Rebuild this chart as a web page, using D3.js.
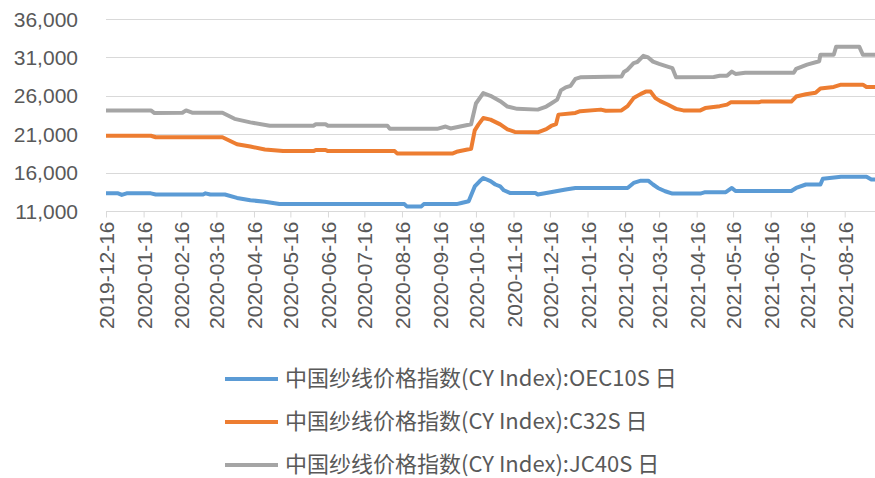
<!DOCTYPE html>
<html>
<head>
<meta charset="utf-8">
<script src="https://cdn.jsdelivr.net/npm/d3@7"></script>
<style>
  body { margin: 0; background: #fff; }
  svg text { font-family: "Liberation Sans", "Noto Sans CJK SC", sans-serif; fill: #595959; }
</style>
</head>
<body>
<div id="chart"></div>
<script>
// tick labels on the date axis
const monthTicks = ["2019-12-16","2020-01-16","2020-02-16","2020-03-16","2020-04-16","2020-05-16",
  "2020-06-16","2020-07-16","2020-08-16","2020-09-16","2020-10-16","2020-11-16","2020-12-16",
  "2021-01-16","2021-02-16","2021-03-16","2021-04-16","2021-05-16","2021-06-16","2021-07-16","2021-08-16"];
const yTicks = [11000, 16000, 21000, 26000, 31000, 36000];

const seriesNames = [
  "中国纱线价格指数(CY Index):OEC10S 日",
  "中国纱线价格指数(CY Index):C32S 日",
  "中国纱线价格指数(CY Index):JC40S 日"
];
const seriesColors = ["#5B9BD5", "#ED7D31", "#A5A5A5"];

// values (date, price)
const oec10s = [
  ["2019-12-16",13300],["2019-12-26",13300],["2019-12-29",13100],["2020-01-02",13300],["2020-01-22",13300],
  ["2020-01-26",13150],["2020-03-05",13150],["2020-03-07",13300],["2020-03-11",13150],["2020-03-23",13150],
  ["2020-04-02",12700],["2020-04-13",12400],["2020-04-25",12200],["2020-05-07",11900],["2020-08-18",11900],
  ["2020-08-20",11600],["2020-09-01",11600],["2020-09-03",11900],["2020-09-30",11900],["2020-10-04",12050],
  ["2020-10-10",12270],["2020-10-15",14200],["2020-10-19",14870],["2020-10-22",15300],["2020-10-28",14900],
  ["2020-11-01",14450],["2020-11-05",14200],["2020-11-08",13700],["2020-11-13",13350],["2020-12-04",13350],
  ["2020-12-06",13150],["2020-12-13",13350],["2020-12-21",13570],["2020-12-29",13800],["2021-01-06",14000],
  ["2021-02-18",14000],["2021-02-23",14650],["2021-03-01",14950],["2021-03-07",14950],["2021-03-11",14450],
  ["2021-03-15",14000],["2021-03-21",13570],["2021-03-27",13270],["2021-04-19",13270],["2021-04-23",13450],
  ["2021-05-10",13450],["2021-05-15",14000],["2021-05-18",13600],["2021-07-03",13600],["2021-07-07",14000],
  ["2021-07-15",14450],["2021-07-27",14450],["2021-07-29",15200],["2021-08-13",15450],["2021-09-03",15450],
  ["2021-09-07",15100],["2021-09-10",15100]
];
const c32s = [
  ["2019-12-16",20800],["2020-01-22",20800],["2020-01-26",20600],["2020-03-21",20600],["2020-04-02",19700],
  ["2020-04-13",19400],["2020-04-25",19000],["2020-05-10",18800],["2020-06-04",18800],["2020-06-06",18950],
  ["2020-06-14",18950],["2020-06-16",18800],["2020-08-10",18800],["2020-08-12",18500],["2020-09-27",18500],
  ["2020-10-01",18750],["2020-10-09",19000],["2020-10-12",19100],["2020-10-15",21500],["2020-10-18",22250],
  ["2020-10-22",23100],["2020-10-28",22900],["2020-11-05",22280],["2020-11-11",21640],["2020-11-17",21300],
  ["2020-12-06",21250],["2020-12-13",21650],["2020-12-17",22070],["2020-12-21",22300],["2020-12-23",23550],
  ["2021-01-06",23770],["2021-01-10",24000],["2021-01-27",24200],["2021-01-31",24050],["2021-02-13",24100],
  ["2021-02-18",24650],["2021-02-23",25700],["2021-03-01",26250],["2021-03-05",26550],["2021-03-09",26550],
  ["2021-03-13",25700],["2021-03-17",25300],["2021-03-23",24870],["2021-03-30",24300],["2021-04-05",24100],
  ["2021-04-19",24100],["2021-04-23",24400],["2021-05-05",24650],["2021-05-11",24850],["2021-05-14",25150],
  ["2021-06-06",25150],["2021-06-08",25250],["2021-07-03",25250],["2021-07-07",25900],["2021-07-15",26200],
  ["2021-07-23",26400],["2021-07-27",26950],["2021-08-07",27150],["2021-08-13",27450],["2021-08-31",27450],
  ["2021-09-03",27150],["2021-09-10",27150]
];
const jc40s = [
  ["2019-12-16",24100],["2020-01-22",24100],["2020-01-25",23750],["2020-02-17",23800],["2020-02-20",24100],
  ["2020-02-25",23800],["2020-03-21",23800],["2020-03-31",23000],["2020-04-13",22540],["2020-04-29",22100],
  ["2020-06-04",22100],["2020-06-06",22300],["2020-06-14",22300],["2020-06-16",22100],["2020-08-04",22100],
  ["2020-08-06",21700],["2020-09-14",21700],["2020-09-21",22000],["2020-09-25",21750],["2020-10-03",22000],
  ["2020-10-09",22200],["2020-10-12",22300],["2020-10-16",25000],["2020-10-22",26350],["2020-10-28",26000],
  ["2020-11-05",25300],["2020-11-11",24600],["2020-11-19",24300],["2020-12-06",24200],["2020-12-13",24600],
  ["2020-12-17",25000],["2020-12-22",25500],["2020-12-25",26700],["2020-12-29",27100],["2021-01-02",27300],
  ["2021-01-06",28200],["2021-01-10",28400],["2021-02-13",28500],["2021-02-15",29100],["2021-02-18",29400],
  ["2021-02-23",30250],["2021-02-26",30400],["2021-03-03",31200],["2021-03-07",31000],["2021-03-11",30450],
  ["2021-03-16",30150],["2021-03-23",29800],["2021-03-27",29600],["2021-03-30",28400],["2021-04-30",28450],
  ["2021-05-05",28600],["2021-05-11",28600],["2021-05-15",29150],["2021-05-18",28850],["2021-05-26",29000],
  ["2021-07-05",29000],["2021-07-07",29500],["2021-07-16",30050],["2021-07-26",30500],["2021-07-27",31350],
  ["2021-08-07",31350],["2021-08-09",32400],["2021-08-28",32400],["2021-08-31",31350],["2021-09-10",31350]
];

const width = 875, height = 478;
const margin = {top: 19, right: 0, bottom: 267, left: 106};
const parse = d3.timeParse("%Y-%m-%d");

const svg = d3.select("#chart").append("svg")
  .attr("width", width)
  .attr("height", height);

const x = d3.scaleTime()
  .domain([parse("2019-12-16"), parse("2021-09-10")])
  .range([margin.left, width - margin.right]);

const y = d3.scaleLinear()
  .domain([11000, 36000])
  .range([height - margin.bottom, margin.top]);

// gridlines
svg.append("g")
  .selectAll("line")
  .data(yTicks.slice(1))
  .enter()
  .append("line")
    .attr("x1", margin.left)
    .attr("x2", width)
    .attr("y1", d => Math.round(y(d)) + 0.5)
    .attr("y2", d => Math.round(y(d)) + 0.5)
    .attr("stroke", "#D9D9D9")
    .attr("stroke-width", 1);

// y labels
svg.append("g")
  .selectAll("text")
  .data(yTicks)
  .enter()
  .append("text")
    .attr("x", 78)
    .attr("y", d => y(d))
    .attr("dy", "0.36em")
    .attr("text-anchor", "end")
    .style("font-size", "21px")
    .text(d => d3.format(",")(d));

// x axis
const xAxis = svg.append("g")
  .attr("transform", `translate(0, ${Math.round(y(11000)) + 0.5})`)
  .call(d3.axisBottom(x)
    .tickValues(monthTicks.map(parse))
    .tickSize(6)
    .tickFormat(d3.timeFormat("%Y-%m-%d")));
xAxis.select(".domain").attr("stroke", "#D9D9D9").attr("d", `M${margin.left},0H${width}`);
xAxis.selectAll(".tick line").attr("stroke", "#D9D9D9");
xAxis.selectAll(".tick text")
  .attr("fill", "#595959")
  .style("font-size", "21px")
  .style("font-family", "Liberation Sans, sans-serif")
  .attr("transform", "rotate(-90)")
  .attr("text-anchor", "end")
  .attr("x", -10)
  .attr("y", 0)
  .attr("dy", "0.36em");

// lines
const line = d3.line()
  .x(d => x(parse(d[0])))
  .y(d => y(d[1]));

[oec10s, c32s, jc40s].forEach((s, i) => {
  svg.append("path")
    .datum(s)
    .attr("fill", "none")
    .attr("stroke", seriesColors[i])
    .attr("stroke-width", 4)
    .attr("stroke-linejoin", "round")
    .attr("d", line);
});

// legend
const legend = svg.append("g");
seriesNames.forEach((name, i) => {
  const ly = 378 + i * 43;
  legend.append("line")
    .attr("x1", 225).attr("x2", 278)
    .attr("y1", ly + 1).attr("y2", ly + 1)
    .attr("stroke", seriesColors[i])
    .attr("stroke-width", 4);
  legend.append("text")
    .attr("x", 285)
    .attr("y", ly)
    .attr("dy", "0.36em")
    .style("font-size", "22px")
    .style("font-family", "'Noto Sans CJK SC', sans-serif")
    .text(name);
});
</script>
</body>
</html>
